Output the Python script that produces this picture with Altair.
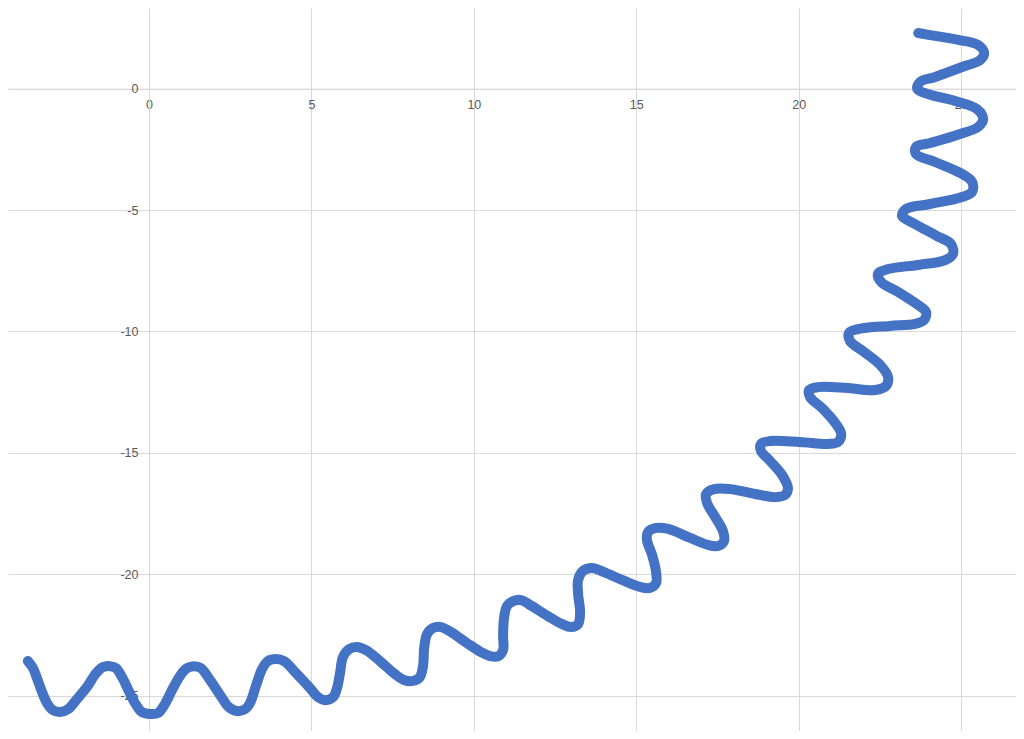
import altair as alt
import pandas as pd

# Traced curve (data coordinates), in drawing order
xs = [-3.73, -3.57, -3.45, -3.29, -3.14, -2.96, -2.74, -2.49, -2.22, -1.91,
      -1.63, -1.42, -1.20, -1.02, -0.83, -0.65, -0.43, -0.22, 0.03, 0.28,
      0.49, 0.74, 0.99, 1.17, 1.39, 1.60, 1.88, 2.19, 2.46, 2.71,
      2.96, 3.11, 3.29, 3.48, 3.66, 3.91, 4.16, 4.53, 4.93, 5.20,
      5.42, 5.67, 5.79, 5.88, 5.97, 6.16, 6.40, 6.68, 7.11, 7.54,
      7.85, 8.13, 8.34, 8.44, 8.47, 8.56, 8.74, 8.99, 9.30, 9.79,
      10.22, 10.50, 10.75, 10.90, 10.90, 10.93, 11.02, 11.21, 11.45, 11.79,
      12.28, 12.72, 12.99, 13.21, 13.27, 13.21, 13.21, 13.36, 13.64, 14.01,
      14.56, 15.12, 15.42, 15.61, 15.61, 15.49, 15.33, 15.36, 15.61, 15.98,
      16.66, 17.21, 17.52, 17.70, 17.67, 17.43, 17.18, 17.15, 17.40, 17.89,
      18.66, 19.27, 19.58, 19.67, 19.49, 19.12, 18.84, 18.84, 19.12, 20.04,
      20.91, 21.21, 21.31, 21.15, 20.75, 20.35, 20.32, 20.60, 21.52, 22.35,
      22.69, 22.75, 22.51, 22.01, 21.58, 21.55, 21.83, 22.81, 23.58, 23.86,
      23.92, 23.68, 23.06, 22.54, 22.44, 22.75, 23.68, 24.51, 24.75, 24.69,
      24.26, 23.52, 23.18, 23.31, 24.05, 25.03, 25.34, 25.34, 24.97, 24.20,
      23.61, 23.61, 24.05, 24.97, 25.52, 25.68, 25.49, 24.82, 23.98, 23.65,
      23.74, 24.20, 25.03, 25.59, 25.71, 25.52, 24.91, 24.20, 23.68]
ys = [-23.57, -23.86, -24.27, -24.85, -25.30, -25.59, -25.67, -25.55, -25.14, -24.64,
      -24.07, -23.82, -23.78, -23.86, -24.23, -24.72, -25.30, -25.67, -25.75, -25.71,
      -25.34, -24.68, -24.11, -23.86, -23.78, -23.86, -24.35, -24.97, -25.47, -25.63,
      -25.55, -25.30, -24.60, -23.90, -23.57, -23.49, -23.57, -24.07, -24.64, -25.05,
      -25.18, -25.05, -24.68, -24.07, -23.41, -23.08, -22.99, -23.12, -23.57, -24.07,
      -24.35, -24.39, -24.23, -23.74, -23.04, -22.46, -22.21, -22.17, -22.38, -22.83,
      -23.20, -23.37, -23.37, -23.12, -22.50, -21.80, -21.31, -21.10, -21.06, -21.31,
      -21.72, -22.05, -22.17, -22.05, -21.55, -20.81, -20.23, -19.86, -19.74, -19.91,
      -20.23, -20.52, -20.56, -20.36, -19.91, -19.21, -18.59, -18.26, -18.09, -18.13,
      -18.50, -18.79, -18.83, -18.63, -18.22, -17.64, -17.06, -16.69, -16.49, -16.49,
      -16.69, -16.82, -16.73, -16.45, -15.91, -15.33, -14.92, -14.63, -14.51, -14.55,
      -14.63, -14.55, -14.22, -13.81, -13.19, -12.70, -12.41, -12.29, -12.33, -12.41,
      -12.24, -11.87, -11.38, -10.84, -10.39, -10.06, -9.90, -9.77, -9.69, -9.53,
      -9.20, -8.91, -8.37, -7.96, -7.63, -7.43, -7.26, -7.06, -6.81, -6.40,
      -6.07, -5.53, -5.24, -4.95, -4.75, -4.46, -4.25, -3.84, -3.47, -3.02,
      -2.69, -2.40, -2.24, -1.87, -1.58, -1.25, -0.84, -0.51, -0.22, -0.01,
      0.28, 0.48, 0.89, 1.18, 1.47, 1.80, 2.01, 2.17, 2.29]

x_ticks = [0, 5, 10, 15, 20, 25]
y_ticks = [0, -5, -10, -15, -20, -25]

df = pd.DataFrame({"order": list(range(len(xs))), "x": xs, "y": ys})

W, H = 1008, 723
x_dom = [-4.34, 26.69]
y_dom = [-26.45, 3.32]
# offsets so the axes cross at zero, like the original
x_axis_offset = -H * (0 - y_dom[0]) / (y_dom[1] - y_dom[0])
y_axis_offset = -W * (0 - x_dom[0]) / (x_dom[1] - x_dom[0])

chart = (
    alt.Chart(df)
    .mark_line(color="#4472C4", strokeWidth=10, strokeCap="round",
               strokeJoin="round", interpolate="catmull-rom")
    .encode(
        x=alt.X("x:Q", scale=alt.Scale(domain=x_dom, nice=False, zero=False),
                axis=alt.Axis(values=x_ticks, title=None, ticks=False,
                              offset=x_axis_offset, labelPadding=10,
                              labelFlush=False, zindex=0,
                              labelExpr="toString(datum.value)")),
        y=alt.Y("y:Q", scale=alt.Scale(domain=y_dom, nice=False, zero=False),
                axis=alt.Axis(values=y_ticks, title=None, ticks=False,
                              offset=y_axis_offset, labelPadding=11,
                              zindex=0, labelExpr="toString(datum.value)")),
        order="order:Q",
    )
    .properties(width=W, height=H, padding=0,
                autosize=alt.AutoSizeParams(type="none"))
    .configure_view(stroke=None)
    .configure_axis(gridColor="#d9d9d9", gridWidth=1, domainColor="#d9d9d9",
                    domainWidth=1, labelColor="#595959",
                    labelFont="Liberation Sans", labelFontSize=12.5)
)

chart.save("out.html", embed_options={"renderer": "svg", "actions": False})
